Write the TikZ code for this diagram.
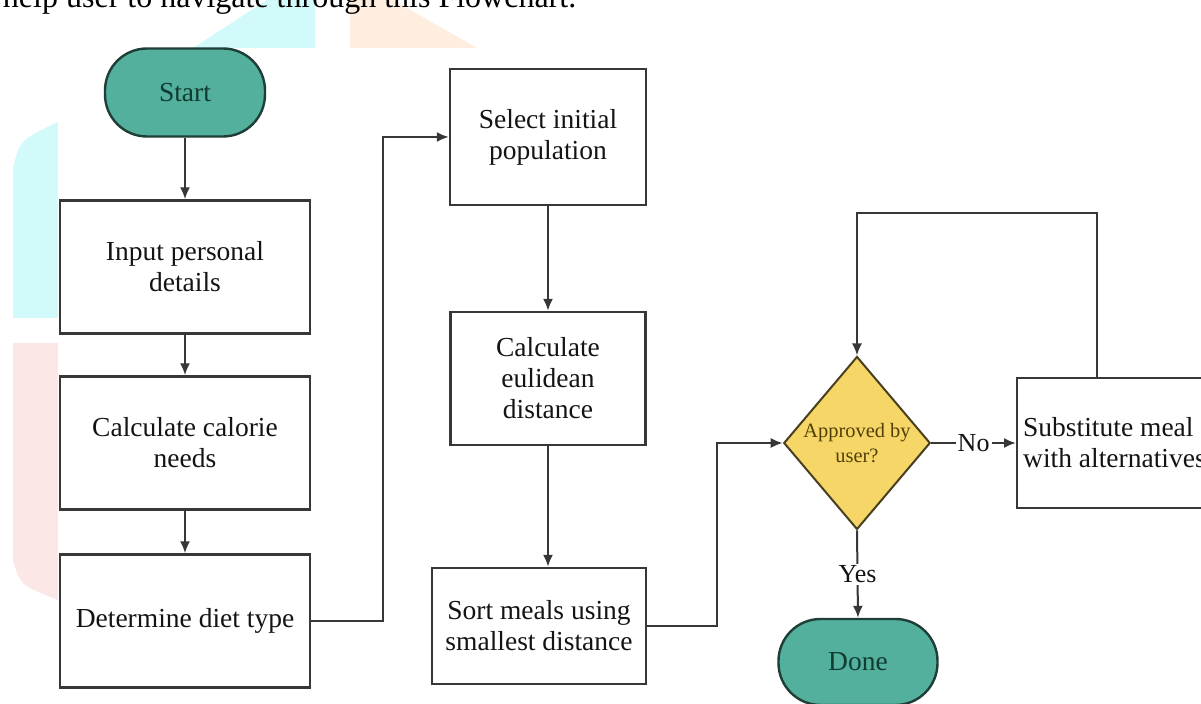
\documentclass[tikz,border=0pt]{standalone}
\usepackage{fontspec}
\setmainfont{Liberation Serif}
\usetikzlibrary{shapes.geometric, arrows.meta}

\definecolor{termfill}{RGB}{82,176,156}
\definecolor{termline}{RGB}{30,62,55}
\definecolor{termtext}{RGB}{16,60,50}
\definecolor{decfill}{RGB}{247,214,104}
\definecolor{decline}{RGB}{72,64,30}
\definecolor{dectext}{RGB}{80,64,6}
\definecolor{edgegray}{RGB}{55,55,55}
\definecolor{markcyan}{RGB}{210,250,250}
\definecolor{markorange}{RGB}{253,238,224}
\definecolor{markpink}{RGB}{252,231,231}

\begin{document}
\begin{tikzpicture}[x=0.5pt, y=-0.5pt, line width=1pt]
    \tikzstyle{process}=[rectangle, draw=edgegray, line width=1.2pt, fill=white,
        align=center, inner sep=3pt, text=black!92,
        font=\fontsize{13.75}{15.5}\selectfont]
    \tikzstyle{terminal}=[rectangle, rounded corners=21pt, draw=termline,
        line width=1.2pt, fill=termfill, text=termtext, minimum width=80pt,
        minimum height=44pt, font=\fontsize{13.75}{15.5}\selectfont]
    \tikzstyle{decision}=[diamond, draw=decline, fill=decfill, text=dectext,
        minimum width=70.5pt, minimum height=86.5pt, inner sep=0pt, align=center,
        font=\fontsize{10.2}{12.5}\selectfont]
    \tikzstyle{connector}=[arrows={-Latex[length=6pt, width=5pt]}, edgegray]
    \tikzstyle{branch}=[fill=white, inner sep=1pt, text=black!92,
        font=\fontsize{13}{15}\selectfont]

    \clip (0, 0) rectangle (1201, 704);

    % faint marks behind the chart
    \fill [markcyan] (193, 48) -- (267, 0) -- (315, 0) -- (315, 48) -- cycle;
    \fill [markorange] (350, 0) -- (393, 0) -- (477, 48) -- (350, 48) -- cycle;
    \fill [markcyan] (13, 318) -- (13, 168) .. controls (20, 140) .. (58, 122)
        -- (58, 318) -- cycle;
    \fill [markpink] (13, 343) -- (58, 343) -- (58, 600)
        .. controls (20, 585) .. (13, 560) -- cycle;
    \fill [white] (58, 48) rectangle (1201, 704);

    \node [anchor=base west, inner sep=0pt, font=\fontsize{16}{18}\selectfont]
        (caption) at (2, 8) {help user to navigate through this Flowchart.};

    \node [terminal] (start) at (185, 92.5) {Start};

    \foreach \name / \y / \txt in {input/267/{Input personal\\details},
            calorie/443/{Calculate calorie\\needs},
            diet/621/{Determine diet type}}
        \node [process, minimum width=125pt, minimum height=66.5pt]
            (\name) at (185, \y) {\txt};

    \node [process, minimum width=98pt, minimum height=68pt]
        (select) at (548, 137) {Select initial\\population};
    \node [process, minimum width=97.5pt, minimum height=66.5pt]
        (euclid) at (548, 378.5) {Calculate\\eulidean\\distance};
    \node [process, minimum width=107pt, minimum height=58pt]
        (sort) at (539, 626) {Sort meals using\\smallest distance};

    \node [decision] (approve) at (857, 443) {Approved by\\user?};
    \node [process, anchor=west, align=left, minimum height=65pt]
        (subst) at (1016, 443) {Substitute meal\\with alternatives};
    \node [terminal, minimum width=79.5pt, minimum height=43pt]
        (done) at (858, 662) {Done};

    \coordinate (loop) at (1097, 213);

    \draw [connector] (start) -- (input);
    \draw [connector] (input) -- (calorie);
    \draw [connector] (calorie) -- (diet);
    \draw [connector] (diet.east) -- ++(72, 0) |- (select.west);
    \draw [connector] (select) -- (euclid);
    \draw [connector] (euclid) -- (euclid |- sort.north);
    \draw [connector] (sort.east) -- ++(70, 0) |- (approve.west);
    \draw [connector] (approve.east) -- node [branch] {No} (subst.west);
    \draw [connector] (loop |- subst.north) -- (loop) -| (approve.north);
    \draw [connector] (approve.south) -- node [branch] {Yes} (done.north);
\end{tikzpicture}
\end{document}
